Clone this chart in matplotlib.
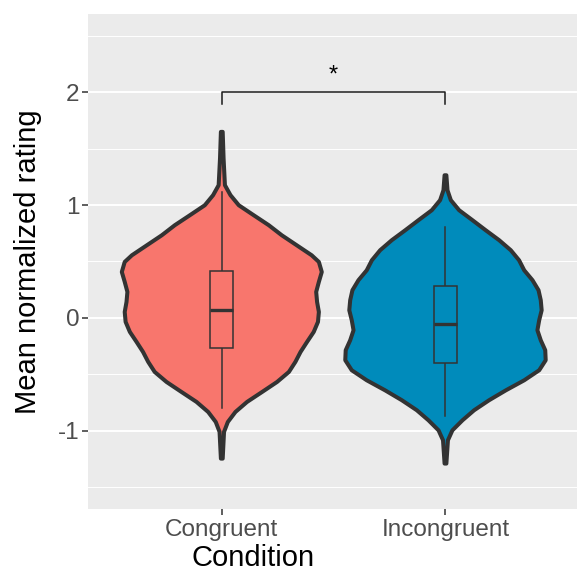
import numpy as np
import matplotlib
matplotlib.use('Agg')
import matplotlib.pyplot as plt

plt.rcParams['font.family'] = ['Liberation Sans', 'DejaVu Sans']

# data
conditions = ['Congruent', 'Incongruent']
fills = ['#F8766D', '#008BBB']

# violin outline: rating level and half width (x units)
cong_y = [1.650, 1.413, 1.177, 1.088, 0.999, 0.910, 0.822, 0.733, 0.644, 0.555,
          0.496, 0.407, 0.319, 0.230, 0.141, 0.052, -0.036, -0.125, -0.214, -0.303,
          -0.391, -0.480, -0.569, -0.658, -0.746, -0.835, -0.924, -1.012, -1.249]
cong_w = [0.004, 0.008, 0.014, 0.039, 0.076, 0.143, 0.210, 0.268, 0.335, 0.402,
          0.434, 0.447, 0.434, 0.422, 0.426, 0.434, 0.430, 0.411, 0.381, 0.352,
          0.329, 0.300, 0.247, 0.180, 0.113, 0.061, 0.027, 0.010, 0.004]
incong_y = [1.265, 1.132, 1.044, 0.955, 0.866, 0.777, 0.689, 0.600, 0.511, 0.422,
            0.334, 0.245, 0.156, 0.067, -0.021, -0.110, -0.199, -0.287, -0.376,
            -0.465, -0.554, -0.643, -0.731, -0.820, -0.909, -0.998, -1.086, -1.293]
incong_w = [0.004, 0.009, 0.024, 0.061, 0.121, 0.180, 0.240, 0.292, 0.329, 0.352,
            0.389, 0.416, 0.426, 0.430, 0.419, 0.411, 0.426, 0.446, 0.448,
            0.419, 0.352, 0.270, 0.195, 0.128, 0.076, 0.031, 0.011, 0.004]

# boxplot stats: lower whisker, q1, median, q3, upper whisker
cong_box = [-0.80, -0.265, 0.07, 0.42, 1.12]
incong_box = [-0.87, -0.405, -0.055, 0.28, 0.81]

profiles = [(cong_y, cong_w), (incong_y, incong_w)]
boxes = [cong_box, incong_box]

fig = plt.figure(figsize=(5.77, 5.73), dpi=100)
ax = fig.add_axes([0.1518, 0.1117, 0.8482, 0.8639])
ax.set_facecolor('#EBEBEB')

ax.set_ylim(-1.696, 2.696)
ax.set_xlim(0.4, 2.588)
ax.set_yticks([-1, 0, 1, 2])
ax.set_yticklabels(['-1', '0', '1', '2'])
ax.set_yticks([-1.5, -0.5, 0.5, 1.5, 2.5], minor=True)
ax.set_xticks([1, 2])
ax.set_xticklabels(conditions)

ax.grid(which='major', axis='y', color='white', lw=1.4, zorder=0)
ax.grid(which='minor', axis='y', color='white', lw=0.7, zorder=0)
ax.set_axisbelow(True)
for s in ax.spines.values():
    s.set_visible(False)

ax.tick_params(axis='both', which='major', length=4, width=1.1, color='#333333',
               labelcolor='#4D4D4D', labelsize=17.5)
ax.tick_params(axis='y', pad=2)
ax.tick_params(axis='x', pad=3)
ax.tick_params(which='minor', length=0)

for i, ((ys, ws), fc, b) in enumerate(zip(profiles, fills, boxes)):
    pos = i + 1
    ys = np.array(ys)
    ws = np.array(ws)
    xs = np.concatenate([pos - ws, (pos + ws)[::-1]])
    yy = np.concatenate([ys, ys[::-1]])
    ax.fill(xs, yy, facecolor=fc, edgecolor='#333333', lw=2.9,
            joinstyle='round', zorder=2)
    # whiskers
    ax.plot([pos, pos], [b[0], b[1]], color='#333333', lw=1.1, zorder=3)
    ax.plot([pos, pos], [b[3], b[4]], color='#333333', lw=1.1, zorder=3)
    # box
    bw = 0.052
    ax.fill([pos - bw, pos + bw, pos + bw, pos - bw, pos - bw],
            [b[1], b[1], b[3], b[3], b[1]], facecolor=fc,
            edgecolor='#333333', lw=1.1, zorder=3)
    ax.plot([pos - bw, pos + bw], [b[2], b[2]], color='#333333', lw=2.4,
            solid_capstyle='butt', zorder=4)

# significance bracket
ax.plot([1, 1, 2, 2], [1.90, 2.0, 2.0, 1.90], color='#1a1a1a', lw=1.1, zorder=3)
ax.text(1.5, 2.15, '*', ha='center', va='center', fontsize=17, color='black')

ax.set_xlabel('Condition', fontsize=21, color='black')
ax.set_ylabel('Mean normalized rating', fontsize=21, color='black')
ax.xaxis.set_label_coords(0.338, -0.098)
ax.yaxis.set_label_coords(-0.122, 0.5)
ax.xaxis.label.set_va('center')
ax.yaxis.label.set_va('center')

fig.savefig('out.png', dpi=100)
